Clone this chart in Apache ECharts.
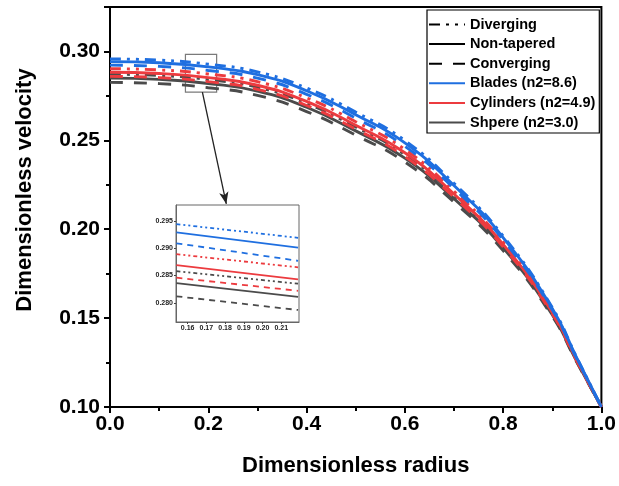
<!DOCTYPE html>
<html>
<head>
<meta charset="utf-8">
<script src="https://cdn.jsdelivr.net/npm/echarts@6/dist/echarts.min.js"></script>
<style>
html,body{margin:0;padding:0;background:#fff;}
#chart{width:619px;height:486px;}
</style>
</head>
<body>
<div id="chart"></div>
<script>
// ---- data ----
const radius = [0, 0.1, 0.2, 0.3, 0.4, 0.5, 0.6, 0.7, 0.8, 0.9, 0.95, 1.0];
const bladesDiverging    = [0.2958, 0.2951, 0.2928, 0.2885, 0.2794, 0.2659, 0.2499, 0.2258, 0.1962, 0.1560, 0.1278, 0.1000];
const bladesNonTapered   = [0.2943, 0.2936, 0.2913, 0.2870, 0.2779, 0.2644, 0.2486, 0.2246, 0.1953, 0.1554, 0.1275, 0.1000];
const bladesConverging   = [0.2923, 0.2916, 0.2893, 0.2850, 0.2759, 0.2625, 0.2467, 0.2230, 0.1940, 0.1547, 0.1271, 0.1000];
const cylDiverging       = [0.2903, 0.2896, 0.2873, 0.2830, 0.2739, 0.2605, 0.2449, 0.2214, 0.1928, 0.1539, 0.1267, 0.1000];
const cylNonTapered      = [0.2883, 0.2876, 0.2853, 0.2810, 0.2719, 0.2585, 0.2430, 0.2198, 0.1915, 0.1532, 0.1263, 0.1000];
const sphDiverging       = [0.2872, 0.2865, 0.2842, 0.2799, 0.2708, 0.2575, 0.2420, 0.2190, 0.1909, 0.1527, 0.1260, 0.1000];
const cylConverging      = [0.2860, 0.2853, 0.2830, 0.2787, 0.2696, 0.2563, 0.2409, 0.2180, 0.1901, 0.1523, 0.1258, 0.1000];
const sphNonTapered      = [0.2850, 0.2843, 0.2820, 0.2777, 0.2686, 0.2553, 0.2400, 0.2172, 0.1895, 0.1519, 0.1256, 0.1000];
const sphConverging      = [0.2826, 0.2819, 0.2796, 0.2753, 0.2662, 0.2529, 0.2378, 0.2153, 0.1880, 0.1510, 0.1251, 0.1000];

// inset (zoomed region) values
const insetRadius = [0.154, 0.219];
const insetBladesDiverging  = [0.2944, 0.2919];
const insetBladesNonTapered = [0.2929, 0.2901];
const insetBladesConverging = [0.2909, 0.2877];
const insetCylDiverging     = [0.2889, 0.2865];
const insetCylNonTapered    = [0.2869, 0.2843];
const insetSphDiverging     = [0.2858, 0.2835];
const insetCylConverging    = [0.2846, 0.2822];
const insetSphNonTapered    = [0.2836, 0.2811];
const insetSphConverging    = [0.2812, 0.2787];

const insetXTicks = [0.16, 0.17, 0.18, 0.19, 0.20, 0.21];
const insetYTicks = [0.280, 0.285, 0.290, 0.295];

const legendNames = ['Diverging', 'Non-tapered', 'Converging', 'Blades (n2=8.6)', 'Cylinders (n2=4.9)', 'Shpere (n2=3.0)'];

// ---- styles ----
const BLUE = '#1f6fe0', RED = '#ec3b3f', GRAY = '#4b4b4b';
const DASHDOT = [11, 6, 3, 6, 3, 6];
const DASH = [13, 11];
const IDASHDOT = [4, 3, 2, 3, 2, 3];
const IDASH = [6, 5];

function pairs(xs, ys) { return xs.map((x, i) => [x, ys[i]]); }

function mainSeries(name, ys, color, type) {
  return {
    name: name, type: 'line', xAxisIndex: 0, yAxisIndex: 0,
    data: pairs(radius, ys), smooth: true, symbol: 'none',
    lineStyle: { color: color, width: 2.9, type: type },
    z: 3
  };
}
function insetSeries(name, ys, color, type) {
  return {
    name: name, type: 'line', xAxisIndex: 1, yAxisIndex: 1,
    data: pairs(insetRadius, ys), symbol: 'none',
    lineStyle: { color: color, width: 1.8, type: type },
    z: 12
  };
}

const series = [
  mainSeries('Shpere Non-tapered', sphNonTapered, GRAY, 'solid'),
  mainSeries('Shpere Diverging', sphDiverging, GRAY, DASHDOT),
  mainSeries('Shpere Converging', sphConverging, GRAY, DASH),
  mainSeries('Cylinders Non-tapered', cylNonTapered, RED, 'solid'),
  mainSeries('Cylinders Diverging', cylDiverging, RED, DASHDOT),
  mainSeries('Cylinders Converging', cylConverging, RED, DASH),
  mainSeries('Blades Non-tapered', bladesNonTapered, BLUE, 'solid'),
  mainSeries('Blades Diverging', bladesDiverging, BLUE, DASHDOT),
  mainSeries('Blades Converging', bladesConverging, BLUE, DASH),
  insetSeries('i1', insetSphNonTapered, GRAY, 'solid'),
  insetSeries('i2', insetSphDiverging, GRAY, IDASHDOT),
  insetSeries('i3', insetSphConverging, GRAY, IDASH),
  insetSeries('i4', insetCylNonTapered, RED, 'solid'),
  insetSeries('i5', insetCylDiverging, RED, IDASHDOT),
  insetSeries('i6', insetCylConverging, RED, IDASH),
  insetSeries('i7', insetBladesNonTapered, BLUE, 'solid'),
  insetSeries('i8', insetBladesDiverging, BLUE, IDASHDOT),
  insetSeries('i9', insetBladesConverging, BLUE, IDASH)
];

// zoom rectangle and arrow
series[0].markArea = {
  silent: true,
  itemStyle: { color: 'rgba(0,0,0,0)', borderColor: '#7a7a7a', borderWidth: 1.2 },
  data: [[{ coord: [0.1535, 0.2983] }, { coord: [0.217, 0.2771] }]]
};
series[0].markLine = {
  silent: true, symbol: ['none', 'arrow'], symbolSize: [7, 12],
  lineStyle: { color: '#222', width: 1.3, type: 'solid' },
  label: { show: false },
  data: [[{ coord: [0.188, 0.2771] }, { coord: [0.2367, 0.2142] }]]
};

// legend-only series
const legendStyles = [
  { color: '#000', type: DASHDOT },
  { color: '#000', type: 'solid' },
  { color: '#000', type: DASH },
  { color: BLUE, type: 'solid' },
  { color: RED, type: 'solid' },
  { color: GRAY, type: 'solid' }
];
legendNames.forEach((n, i) => {
  series.push({
    name: n, type: 'line', xAxisIndex: 0, yAxisIndex: 0, data: [], symbol: 'none',
    lineStyle: { color: legendStyles[i].color, width: 2.9, type: legendStyles[i].type },
    itemStyle: { color: legendStyles[i].color }
  });
});

const FONT = 'Liberation Sans, Arial, sans-serif';

const option = {
  animation: false,
  backgroundColor: '#fff',
  textStyle: { fontFamily: FONT },
  legend: {
    data: legendNames,
    orient: 'vertical',
    left: 427, top: 10,
    itemWidth: 36, itemHeight: 14, itemGap: 4.6,
    padding: [7, 4, 3, 1],
    borderColor: '#000', borderWidth: 1.2,
    backgroundColor: '#fff',
    itemStyle: { opacity: 0 },
    textStyle: { fontFamily: FONT, fontWeight: 'bold', fontSize: 14.5, color: '#000' },
    z: 20
  },
  grid: [
    { left: 110, right: 16, top: 7, bottom: 79, show: true, borderColor: '#000', borderWidth: 2, backgroundColor: 'rgba(0,0,0,0)' },
    { left: 176, top: 205, width: 123, height: 117, show: true, borderColor: '#666', borderWidth: 1, backgroundColor: '#fff', z: 10 }
  ],
  xAxis: [
    {
      type: 'value', gridIndex: 0, min: 0, max: 1, interval: 0.2,
      axisLine: { lineStyle: { color: '#000', width: 2 } },
      axisTick: { length: 6, lineStyle: { width: 2, color: '#000' } },
      minorTick: { show: true, splitNumber: 2, length: 4, lineStyle: { width: 2, color: '#000' } },
      splitLine: { show: false },
      axisLabel: { margin: 7, fontSize: 21, fontWeight: 'bold', color: '#000', fontFamily: FONT,
        formatter: v => v.toFixed(1) },
      name: 'Dimensionless radius', nameLocation: 'middle', nameGap: 48,
      nameTextStyle: { fontSize: 22, fontWeight: 'bold', color: '#000', fontFamily: FONT }
    },
    {
      type: 'value', gridIndex: 1, min: 0.1538, max: 0.2195,
      axisLine: { lineStyle: { color: '#666', width: 1 } },
      axisTick: { customValues: insetXTicks, length: 2, lineStyle: { color: '#444', width: 1 } },
      splitLine: { show: false },
      axisLabel: { customValues: insetXTicks, margin: 3, fontSize: 7, fontWeight: 'bold', color: '#222', fontFamily: FONT,
        formatter: v => v.toFixed(2) },
      z: 11
    }
  ],
  yAxis: [
    {
      type: 'value', gridIndex: 0, min: 0.10, max: 0.325, interval: 0.05,
      axisLine: { lineStyle: { color: '#000', width: 2 } },
      axisTick: { length: 6, lineStyle: { width: 2, color: '#000' } },
      minorTick: { show: true, splitNumber: 2, length: 4, lineStyle: { width: 2, color: '#000' } },
      splitLine: { show: false },
      axisLabel: { margin: 10, fontSize: 21, fontWeight: 'bold', color: '#000', fontFamily: FONT,
        showMaxLabel: false, formatter: v => v.toFixed(2) },
      name: 'Dimensionless velocity', nameLocation: 'middle', nameGap: 74,
      nameTextStyle: { fontSize: 22, fontWeight: 'bold', color: '#000', fontFamily: FONT, padding: [0, 0, 0, 34] }
    },
    {
      type: 'value', gridIndex: 1, min: 0.2765, max: 0.2979,
      axisLine: { lineStyle: { color: '#666', width: 1 } },
      axisTick: { customValues: insetYTicks, length: 2, lineStyle: { color: '#444', width: 1 } },
      splitLine: { show: false },
      axisLabel: { customValues: insetYTicks, margin: 3, fontSize: 7, fontWeight: 'bold', color: '#222', fontFamily: FONT,
        formatter: v => v.toFixed(3) },
      z: 11
    }
  ],
  series: series
};

const chart = echarts.init(document.getElementById('chart'), null, { renderer: 'canvas' });
chart.setOption(option);
</script>
</body>
</html>
